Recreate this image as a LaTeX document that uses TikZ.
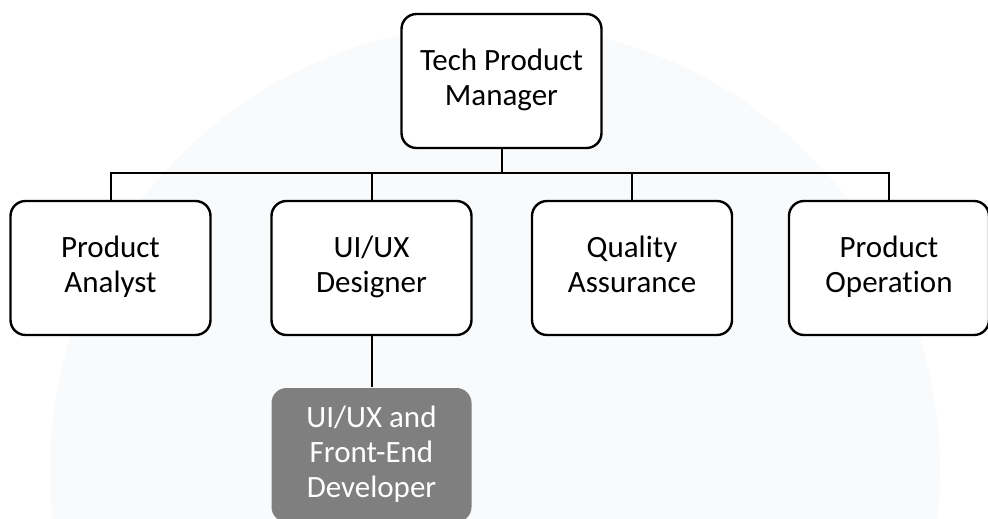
\documentclass[tikz,border=0pt]{standalone}
\usepackage{fontspec}
\setmainfont{Carlito}[Ligatures=NoCommon]
\usetikzlibrary{positioning}

\definecolor{wmark}{HTML}{F9FAFC}
\definecolor{devgray}{HTML}{7F7F7F}

\tikzset{
  rolebox/.style={draw=black, line width=2.4pt, rounded corners=15pt,
    fill=white, minimum width=200pt, minimum height=134pt,
    inner sep=0pt, align=center, font=\fontsize{31}{35}\selectfont},
  devbox/.style={rolebox, draw=none, fill=devgray, text=white},
  link/.style={line width=2pt},
}

\begin{document}
\begin{tikzpicture}[x=1pt, y=-1pt]

  \useasboundingbox (0,0) rectangle (988,519);

  % Faint watermark
  \fill[wmark] (495,470) circle[radius=445];

  %%%%%%%%%%%%%%%%%%%%%%%%%%%%%%%%%%%%%%%%%%%%%%%%%
  % Manager
  \node[rolebox] (tpm) at (501.5,81) {\strut Tech Product\\Manager\strut};

  % Team
  \node[rolebox] (pa) at (110.5,268) {\strut Product\\Analyst\strut};
  \node[rolebox] (ux) at (371.5,268) {\strut UI/UX\\Designer\strut};
  \node[rolebox] (qa) at (632,268)   {\strut Quality\\Assurance\strut};
  \node[rolebox] (po) at (889,268)   {\strut Product\\Operation\strut};

  % Developer
  \node[devbox] (dev) at (371.5,455) {\strut UI/UX and\\Front-End\\Developer\strut};

  %%%%%%%%%%%%%%%%%%%%%%%%%%%%%%%%%%%%%%%%%%%%%%%%%
  % Connectors
  \coordinate (bus) at (501.5,173);
  \draw[link] (tpm.south) -- (bus);
  \draw[link] (pa.north) |- (bus) -| (po.north);
  \draw[link] (ux.north) -- (ux.north |- bus);
  \draw[link] (qa.north) -- (qa.north |- bus);
  \draw[link] (ux.south) -- (dev.north);

\end{tikzpicture}
\end{document}
